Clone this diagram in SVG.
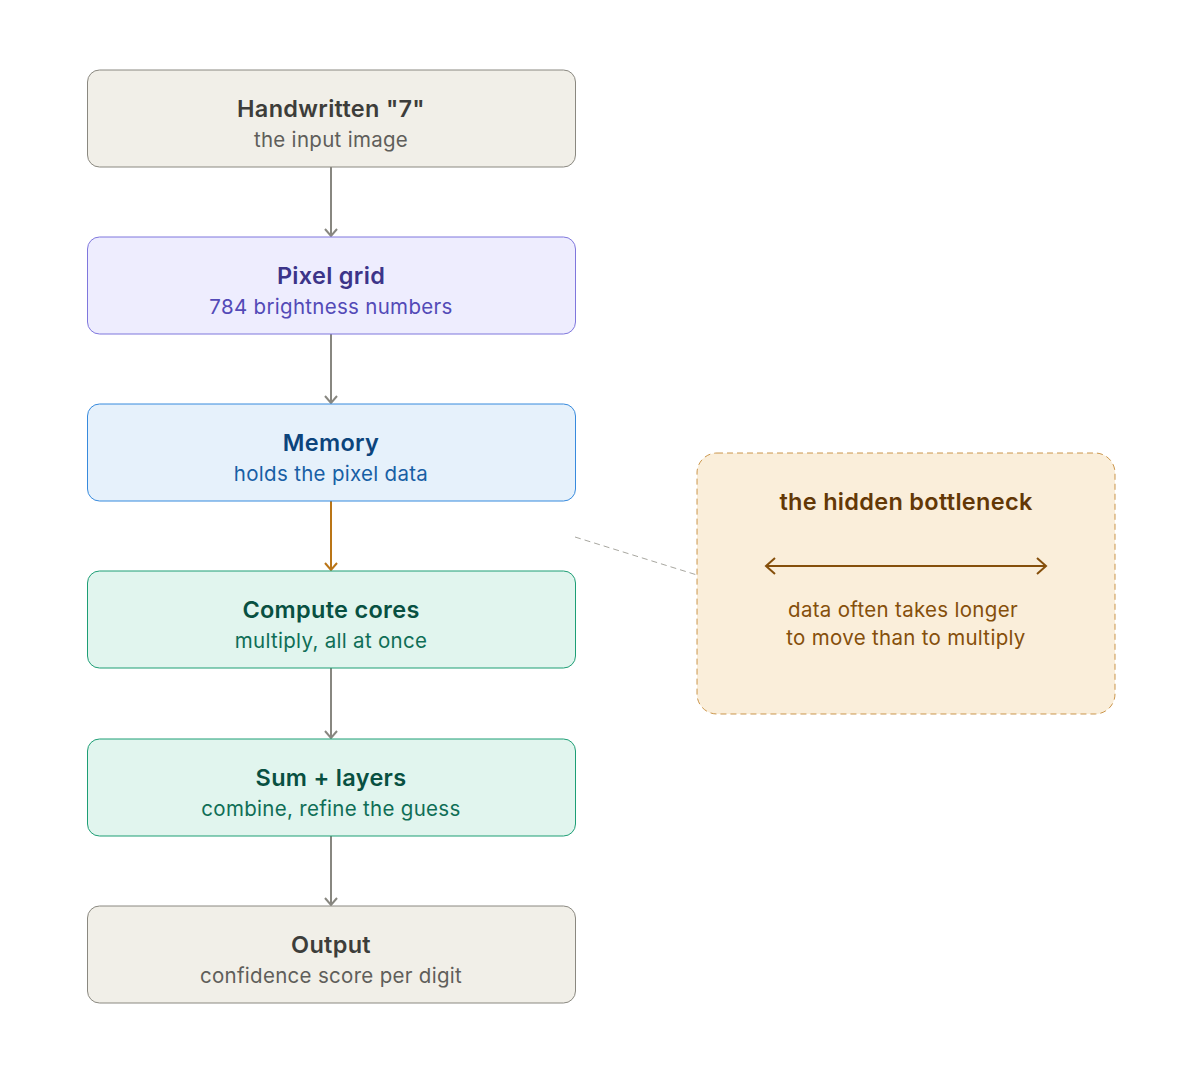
<svg xmlns="http://www.w3.org/2000/svg" width="1185" height="1080" viewBox="0 0 1185 1080">
<style>
.t{font-family:Inter,"Noto Sans","Liberation Sans",sans-serif;font-size:23.5px;font-weight:600;text-anchor:middle;letter-spacing:0.3px}
.s{font-family:Inter,"Noto Sans","Liberation Sans",sans-serif;font-size:20.5px;font-weight:400;text-anchor:middle;letter-spacing:0.3px}
.gray rect{fill:#f1efe8;stroke:#8a8880}
.gray .t{fill:#3d3d3a}.gray .s{fill:#5f5e5a}
.pur rect{fill:#eeedfe;stroke:#7f77dd}
.pur .t{fill:#3c3489}.pur .s{fill:#534ab7}
.blu rect{fill:#e6f1fb;stroke:#378add}
.blu .t{fill:#0c447c}.blu .s{fill:#185fa5}
.grn rect{fill:#e1f5ee;stroke:#1d9e75}
.grn .t{fill:#085041}.grn .s{fill:#0f6e56}
.edge{stroke:#888780;stroke-width:2;fill:none}
</style>
<rect width="1185" height="1080" fill="#ffffff"/>
<g id="connectors">
<line class="edge" x1="331" y1="167" x2="331" y2="236"/>
<path d="M325 229L331 236L337 229" fill="none" stroke="#888780" stroke-width="2"/>
<line class="edge" x1="331" y1="334" x2="331" y2="403"/>
<path d="M325 396L331 403L337 396" fill="none" stroke="#888780" stroke-width="2"/>
<line x1="331" y1="501" x2="331" y2="570" stroke="#ba7517" stroke-width="2"/>
<path d="M325 563L331 570L337 563" fill="none" stroke="#ba7517" stroke-width="2"/>
<line class="edge" x1="331" y1="668" x2="331" y2="738"/>
<path d="M325 731L331 738L337 731" fill="none" stroke="#888780" stroke-width="2"/>
<line class="edge" x1="331" y1="836" x2="331" y2="905"/>
<path d="M325 898L331 905L337 898" fill="none" stroke="#888780" stroke-width="2"/>
<line x1="575" y1="537" x2="697" y2="575" stroke="#a8a7a0" stroke-width="1" stroke-dasharray="6 4"/>
</g>
<g id="n1" class="gray"><rect x="87.5" y="70" width="488" height="97" rx="12"/><text class="t" x="331" y="117">Handwritten "7"</text><text class="s" x="331" y="147">the input image</text></g>
<g id="n2" class="pur"><rect x="87.5" y="237" width="488" height="97" rx="12"/><text class="t" x="331" y="284">Pixel grid</text><text class="s" x="331" y="314">784 brightness numbers</text></g>
<g id="n3" class="blu"><rect x="87.5" y="404" width="488" height="97" rx="12"/><text class="t" x="331" y="451">Memory</text><text class="s" x="331" y="481">holds the pixel data</text></g>
<g id="n4" class="grn"><rect x="87.5" y="571" width="488" height="97" rx="12"/><text class="t" x="331" y="618">Compute cores</text><text class="s" x="331" y="648">multiply, all at once</text></g>
<g id="n5" class="grn"><rect x="87.5" y="739" width="488" height="97" rx="12"/><text class="t" x="331" y="786">Sum + layers</text><text class="s" x="331" y="816">combine, refine the guess</text></g>
<g id="n6" class="gray"><rect x="87.5" y="906" width="488" height="97" rx="12"/><text class="t" x="331" y="953">Output</text><text class="s" x="331" y="983">confidence score per digit</text></g>
<g id="callout">
<rect x="697" y="453" width="418" height="261" rx="20" fill="#faeeda" stroke="#ba7517" stroke-opacity="0.75" stroke-dasharray="6 4"/>
<text class="t" x="906" y="510" fill="#633806">the hidden bottleneck</text>
<line x1="767" y1="566" x2="1045" y2="566" stroke="#854f0b" stroke-width="2"/>
<path d="M775 558L766 566L775 574M1037 558L1046 566L1037 574" fill="none" stroke="#854f0b" stroke-width="2"/>
<text class="s" x="903" y="617" fill="#854f0b">data often takes longer</text>
<text class="s" x="906" y="645" fill="#854f0b">to move than to multiply</text>
</g>
</svg>
